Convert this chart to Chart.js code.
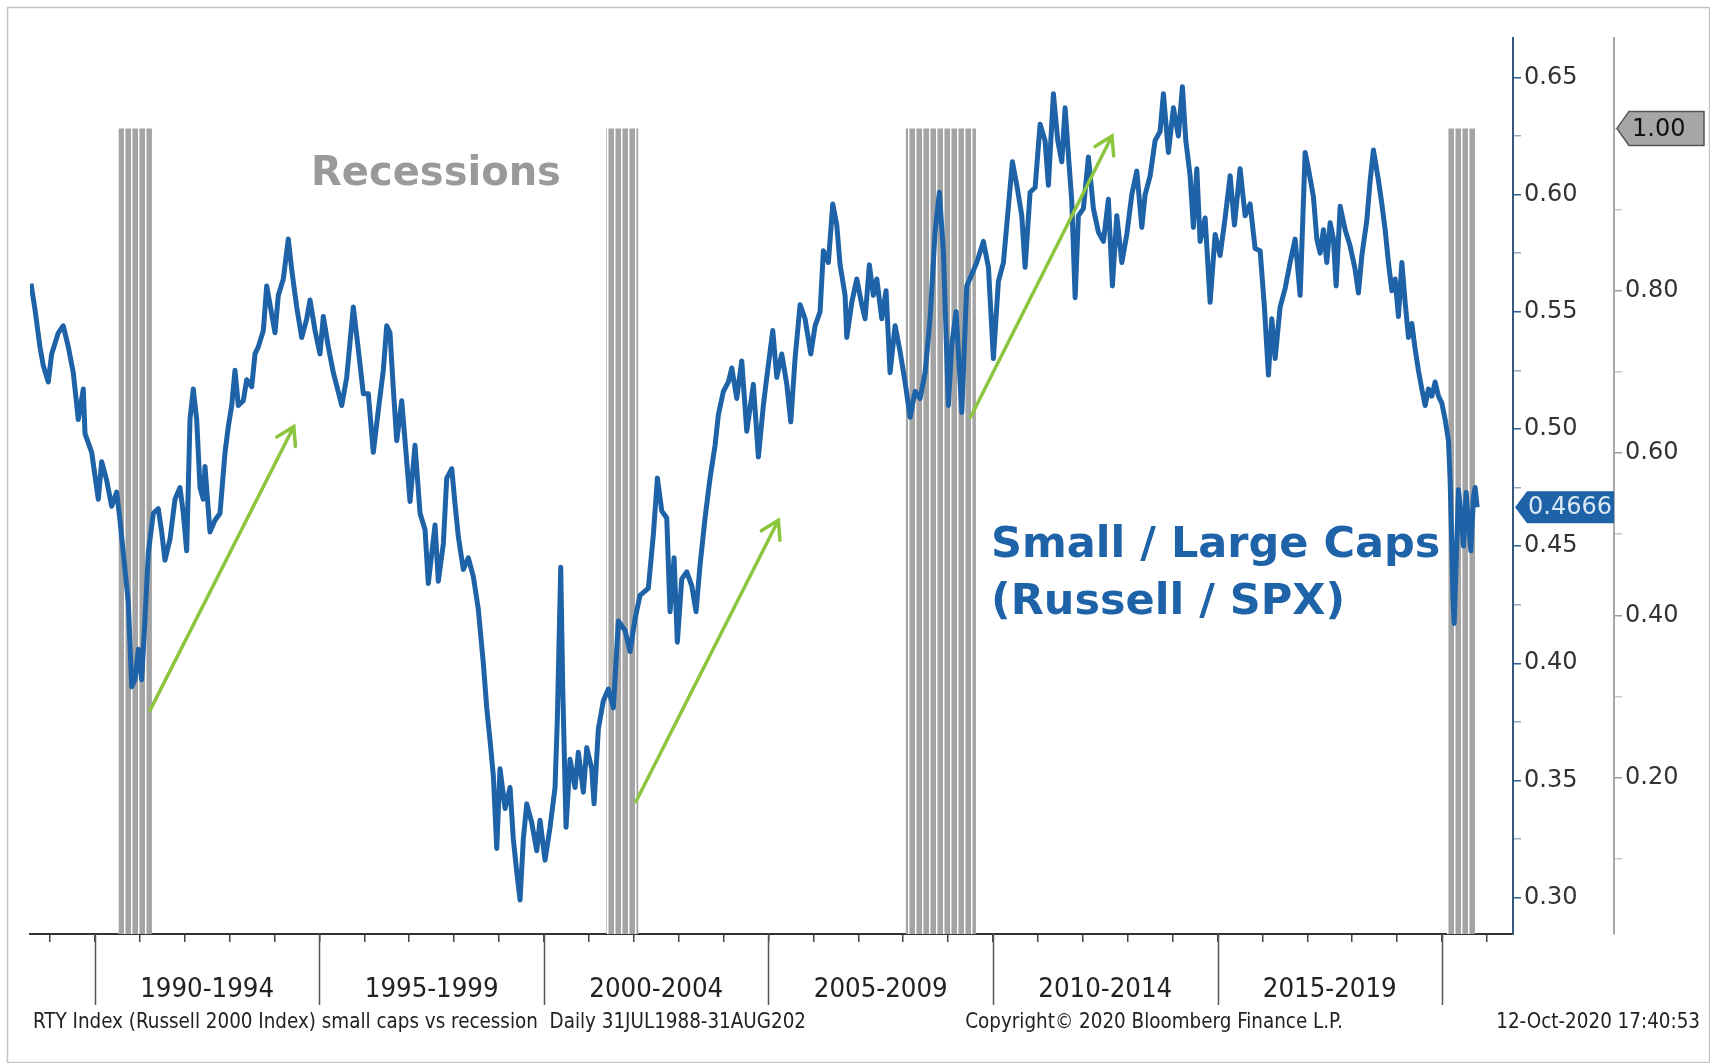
<!DOCTYPE html>
<html>
<head>
<meta charset="utf-8">
<script src="https://cdn.jsdelivr.net/npm/chart.js@4.4.1/dist/chart.umd.min.js"></script>
<style>
  html, body { margin: 0; padding: 0; background: #fff; }
  #wrap { width: 1710px; height: 1063px; position: relative; }
</style>
</head>
<body>
<div id="wrap"><canvas id="chart"></canvas></div>
<script>
// Russell 2000 / SPX ratio (decimal years)
const dates = [
  1988.577, 1988.666, 1988.777, 1988.851, 1988.962, 1989.038, 1989.185, 1989.296, 1989.408, 1989.519,
  1989.630, 1989.742, 1989.780, 1989.929, 1990.002, 1990.076, 1990.151, 1990.263, 1990.374, 1990.485,
  1990.559, 1990.670, 1990.744, 1990.820, 1990.893, 1990.967, 1991.042, 1991.116, 1991.189, 1991.301,
  1991.412, 1991.488, 1991.561, 1991.673, 1991.784, 1991.895, 1991.969, 1992.044, 1992.118, 1992.191,
  1992.267, 1992.341, 1992.414, 1992.452, 1992.563, 1992.675, 1992.786, 1992.898, 1992.971, 1993.047,
  1993.120, 1993.194, 1993.305, 1993.381, 1993.492, 1993.566, 1993.639, 1993.751, 1993.826, 1993.938,
  1994.011, 1994.085, 1994.196, 1994.307, 1994.383, 1994.494, 1994.606, 1994.717, 1994.791, 1994.902,
  1995.013, 1995.087, 1995.198, 1995.310, 1995.497, 1995.608, 1995.755, 1995.866, 1995.978, 1996.089,
  1996.200, 1996.312, 1996.423, 1996.499, 1996.572, 1996.646, 1996.722, 1996.833, 1996.906, 1997.018,
  1997.129, 1997.241, 1997.352, 1997.425, 1997.575, 1997.648, 1997.760, 1997.835, 1997.947, 1998.020,
  1998.094, 1998.205, 1998.316, 1998.428, 1998.539, 1998.650, 1998.726, 1998.800, 1998.873, 1998.949,
  1999.022, 1999.134, 1999.245, 1999.318, 1999.394, 1999.468, 1999.541, 1999.617, 1999.728, 1999.840,
  1999.913, 2000.024, 2000.136, 2000.247, 2000.298, 2000.374, 2000.419, 2000.492, 2000.581, 2000.693,
  2000.766, 2000.878, 2000.953, 2001.065, 2001.116, 2001.212, 2001.323, 2001.434, 2001.546, 2001.657,
  2001.806, 2001.918, 2002.029, 2002.140, 2002.325, 2002.437, 2002.526, 2002.624, 2002.735, 2002.808,
  2002.898, 2002.971, 2003.069, 2003.180, 2003.292, 2003.387, 2003.477, 2003.588, 2003.699, 2003.811,
  2003.884, 2003.996, 2004.107, 2004.183, 2004.294, 2004.405, 2004.517, 2004.664, 2004.775, 2004.886,
  2004.962, 2005.096, 2005.185, 2005.296, 2005.408, 2005.497, 2005.592, 2005.704, 2005.815, 2005.942,
  2006.038, 2006.149, 2006.223, 2006.334, 2006.432, 2006.521, 2006.595, 2006.706, 2006.744, 2006.855,
  2006.967, 2007.078, 2007.151, 2007.247, 2007.336, 2007.412, 2007.523, 2007.619, 2007.708, 2007.820,
  2007.931, 2008.042, 2008.154, 2008.265, 2008.376, 2008.488, 2008.599, 2008.710, 2008.806, 2008.895,
  2009.007, 2009.082, 2009.178, 2009.305, 2009.416, 2009.528, 2009.639, 2009.786, 2009.898, 2010.009,
  2010.120, 2010.232, 2010.307, 2010.432, 2010.530, 2010.641, 2010.715, 2010.826, 2010.938, 2011.049,
  2011.160, 2011.234, 2011.345, 2011.443, 2011.532, 2011.606, 2011.679, 2011.755, 2011.829, 2011.902,
  2012.013, 2012.125, 2012.236, 2012.347, 2012.459, 2012.570, 2012.659, 2012.757, 2012.869, 2012.980,
  2013.091, 2013.203, 2013.314, 2013.388, 2013.499, 2013.610, 2013.722, 2013.795, 2013.906, 2014.018,
  2014.129, 2014.218, 2014.294, 2014.390, 2014.463, 2014.539, 2014.612, 2014.724, 2014.835, 2014.947,
  2015.058, 2015.169, 2015.281, 2015.376, 2015.503, 2015.615, 2015.726, 2015.837, 2015.949, 2016.044,
  2016.134, 2016.209, 2016.283, 2016.394, 2016.506, 2016.617, 2016.728, 2016.840, 2016.951, 2017.024,
  2017.136, 2017.212, 2017.285, 2017.359, 2017.434, 2017.508, 2017.581, 2017.641, 2017.731, 2017.842,
  2017.953, 2018.065, 2018.138, 2018.214, 2018.325, 2018.399, 2018.472, 2018.584, 2018.659, 2018.733,
  2018.806, 2018.882, 2018.955, 2019.029, 2019.105, 2019.178, 2019.252, 2019.327, 2019.401, 2019.474,
  2019.550, 2019.624, 2019.697, 2019.773, 2019.846, 2019.920, 2019.996, 2020.069, 2020.143, 2020.180,
  2020.218, 2020.241, 2020.270, 2020.314, 2020.365, 2020.419, 2020.477, 2020.537, 2020.588, 2020.642,
  2020.699, 2020.737, 2020.782
];
const ratio = [
  0.562, 0.551, 0.535, 0.527, 0.520, 0.532, 0.541, 0.544, 0.535, 0.524,
  0.504, 0.517, 0.498, 0.490, 0.480, 0.470, 0.486, 0.478, 0.467, 0.473,
  0.461, 0.440, 0.426, 0.390, 0.393, 0.406, 0.393, 0.419, 0.447, 0.464,
  0.466, 0.456, 0.444, 0.453, 0.470, 0.475, 0.464, 0.448, 0.504, 0.517,
  0.504, 0.475, 0.470, 0.484, 0.456, 0.461, 0.464, 0.490, 0.501, 0.510,
  0.525, 0.510, 0.512, 0.521, 0.518, 0.532, 0.535, 0.542, 0.561, 0.549,
  0.541, 0.557, 0.564, 0.581, 0.568, 0.552, 0.539, 0.547, 0.555, 0.542,
  0.532, 0.548, 0.535, 0.524, 0.510, 0.522, 0.552, 0.534, 0.515, 0.515,
  0.490, 0.508, 0.525, 0.544, 0.541, 0.517, 0.495, 0.512, 0.495, 0.469,
  0.493, 0.464, 0.457, 0.434, 0.459, 0.435, 0.451, 0.479, 0.483, 0.468,
  0.454, 0.440, 0.445, 0.437, 0.423, 0.400, 0.381, 0.367, 0.352, 0.321,
  0.355, 0.338, 0.347, 0.325, 0.311, 0.299, 0.325, 0.340, 0.332, 0.320,
  0.333, 0.316, 0.330, 0.347, 0.376, 0.441, 0.389, 0.330, 0.359, 0.347,
  0.362, 0.345, 0.364, 0.355, 0.340, 0.372, 0.384, 0.389, 0.381, 0.418,
  0.414, 0.405, 0.419, 0.429, 0.432, 0.455, 0.479, 0.465, 0.462, 0.422,
  0.445, 0.409, 0.436, 0.439, 0.433, 0.422, 0.442, 0.462, 0.479, 0.493,
  0.506, 0.516, 0.520, 0.526, 0.513, 0.529, 0.499, 0.519, 0.488, 0.510,
  0.522, 0.542, 0.522, 0.532, 0.519, 0.503, 0.530, 0.553, 0.547, 0.532,
  0.544, 0.550, 0.576, 0.571, 0.596, 0.587, 0.570, 0.557, 0.539, 0.554,
  0.564, 0.553, 0.547, 0.570, 0.557, 0.564, 0.547, 0.559, 0.524, 0.544,
  0.533, 0.520, 0.505, 0.516, 0.513, 0.524, 0.547, 0.584, 0.601, 0.576,
  0.510, 0.536, 0.550, 0.507, 0.561, 0.566, 0.571, 0.580, 0.569, 0.530,
  0.563, 0.571, 0.587, 0.614, 0.604, 0.591, 0.569, 0.601, 0.603, 0.630,
  0.623, 0.604, 0.643, 0.623, 0.614, 0.637, 0.617, 0.597, 0.556, 0.591,
  0.594, 0.616, 0.594, 0.584, 0.580, 0.598, 0.561, 0.591, 0.571, 0.583,
  0.600, 0.610, 0.586, 0.600, 0.608, 0.623, 0.627, 0.643, 0.618, 0.637,
  0.625, 0.646, 0.623, 0.608, 0.586, 0.611, 0.580, 0.590, 0.554, 0.583,
  0.574, 0.590, 0.608, 0.587, 0.611, 0.591, 0.596, 0.577, 0.576, 0.552,
  0.523, 0.547, 0.530, 0.552, 0.560, 0.571, 0.581, 0.557, 0.618, 0.611,
  0.599, 0.581, 0.575, 0.585, 0.571, 0.588, 0.581, 0.561, 0.595, 0.585,
  0.578, 0.568, 0.558, 0.574, 0.589, 0.606, 0.619, 0.606, 0.596, 0.585,
  0.571, 0.559, 0.564, 0.548, 0.571, 0.554, 0.539, 0.545, 0.534, 0.525,
  0.517, 0.510, 0.517, 0.514, 0.520, 0.514, 0.511, 0.504, 0.495, 0.478,
  0.450, 0.429, 0.417, 0.443, 0.474, 0.464, 0.450, 0.473, 0.460, 0.448,
  0.471, 0.475, 0.4666
];

// recession flag (right axis = 1) between these dates
const recessionStart = [1990.52, 2001.39, 2008.06, 2020.11];
const recessionEnd = [1991.27, 2002.10, 2009.62, 2020.74];
const recessionFlag = 1;

const ratioTicks = [0.30, 0.35, 0.40, 0.45, 0.50, 0.55, 0.60, 0.65];
const ratioMinor = [0.325, 0.375, 0.425, 0.475, 0.525, 0.575, 0.625];
const flagTicks = [0.20, 0.40, 0.60, 0.80];
const flagMinor = [0.10, 0.30, 0.50, 0.70, 0.90, 1.00];
const yearTicks = [
  1989, 1990, 1991, 1992, 1993, 1994, 1995, 1996, 1997, 1998, 1999, 2000, 2001, 2002, 2003, 2004,
  2005, 2006, 2007, 2008, 2009, 2010, 2011, 2012, 2013, 2014, 2015, 2016, 2017, 2018, 2019, 2020, 2021
];
const periodStarts = [1990, 1995, 2000, 2005, 2010, 2015, 2020];
const periodLabels = ["1990-1994", "1995-1999", "2000-2004", "2005-2009", "2010-2014", "2015-2019"];

// green arrows, [year, ratio]
const arrowFrom = [[1991.23, 0.380], [2002.05, 0.341], [2009.50, 0.505]];
const arrowTo = [[1994.43, 0.501], [2005.22, 0.461], [2012.65, 0.625]];

const blue = "#1e62a8";
const green = "#8cc63f";
const narrow = "'Liberation Sans Narrow', 'DejaVu Sans Condensed', 'DejaVu Sans'";

function stripes() {
  const c = document.createElement("canvas");
  c.width = 7;
  c.height = 4;
  const g = c.getContext("2d");
  g.fillStyle = "#a4a4a4";
  g.fillRect(0, 0, 7, 4);
  g.fillStyle = "#ffffff";
  g.fillRect(5, 0, 1, 4);
  g.fillStyle = "#cdcdcd";
  g.fillRect(6, 0, 1, 4);
  return g.createPattern(c, "repeat");
}

// font size that makes `text` about `width` px wide
function fitFont(ctx, text, width, family) {
  ctx.font = "100px " + family;
  return (100 * width) / ctx.measureText(text).width;
}

const ratioPoints = dates.map((d, i) => ({ x: d, y: ratio[i] }));
const recessionPoints = [];
recessionStart.forEach((s, i) => {
  const e = recessionEnd[i];
  recessionPoints.push({ x: s, y: 0 }, { x: s, y: recessionFlag }, { x: e, y: recessionFlag }, { x: e, y: 0 });
});

function arrow(ctx, x0, y0, x1, y1) {
  const a = Math.atan2(y1 - y0, x1 - x0);
  const len = 20, spread = 0.55;
  ctx.beginPath();
  ctx.moveTo(x0, y0);
  ctx.lineTo(x1, y1);
  ctx.moveTo(x1 - len * Math.cos(a - spread), y1 - len * Math.sin(a - spread));
  ctx.lineTo(x1, y1);
  ctx.lineTo(x1 - len * Math.cos(a + spread), y1 - len * Math.sin(a + spread));
  ctx.stroke();
}

function tagBox(ctx, xTip, y, xRight, h, fill, stroke) {
  ctx.beginPath();
  ctx.moveTo(xTip, y);
  ctx.lineTo(xTip + 12, y - h / 2);
  ctx.lineTo(xRight, y - h / 2);
  ctx.lineTo(xRight, y + h / 2);
  ctx.lineTo(xTip + 12, y + h / 2);
  ctx.closePath();
  ctx.fillStyle = fill;
  ctx.fill();
  if (stroke) {
    ctx.strokeStyle = stroke;
    ctx.lineWidth = 1.5;
    ctx.stroke();
  }
}

const frame = {
  id: "frame",
  beforeDraw(chart) {
    const ctx = chart.ctx;
    ctx.save();
    ctx.fillStyle = "#fff";
    ctx.fillRect(0, 0, chart.width, chart.height);
    ctx.strokeStyle = "#c4c4c4";
    ctx.lineWidth = 1.5;
    ctx.strokeRect(7.5, 7.5, chart.width - 8, chart.height - 8);
    ctx.restore();
  },
};

const notes = {
  id: "notes",
  afterDatasetsDraw(chart) {
    const ctx = chart.ctx;
    const sx = chart.scales.x, sy = chart.scales.y;
    ctx.save();
    ctx.strokeStyle = green;
    ctx.lineWidth = 3.5;
    ctx.lineCap = "round";
    arrowFrom.forEach((p, i) => {
      const q = arrowTo[i];
      arrow(ctx, sx.getPixelForValue(p[0]), sy.getPixelForValue(p[1]),
        sx.getPixelForValue(q[0]), sy.getPixelForValue(q[1]));
    });

    ctx.textBaseline = "middle";
    ctx.textAlign = "center";
    ctx.fillStyle = "#9a9a9a";
    ctx.font = "bold 40px 'DejaVu Sans'";
    ctx.fillText("Recessions", 436, 175);

    ctx.textAlign = "left";
    ctx.fillStyle = blue;
    ctx.font = "bold 43px 'DejaVu Sans'";
    ctx.fillText("Small / Large Caps", 991, 546);
    ctx.fillText("(Russell / SPX)", 991, 603);
    ctx.restore();
  },
  afterDraw(chart) {
    const ctx = chart.ctx;
    const sx = chart.scales.x, sy = chart.scales.y, sy2 = chart.scales.y2;
    const area = chart.chartArea;
    ctx.save();

    // 5-year separators and period labels
    ctx.strokeStyle = "#555";
    ctx.lineWidth = 1.5;
    periodStarts.forEach((yr) => {
      const px = Math.round(sx.getPixelForValue(yr)) + 0.5;
      ctx.beginPath();
      ctx.moveTo(px, area.bottom);
      ctx.lineTo(px, 1005);
      ctx.stroke();
    });
    ctx.fillStyle = "#222";
    ctx.textAlign = "center";
    ctx.textBaseline = "middle";
    const yearSize = fitFont(ctx, periodLabels[0], 134, narrow);
    ctx.font = yearSize.toFixed(1) + "px " + narrow;
    periodLabels.forEach((lab, i) => {
      const mid = (sx.getPixelForValue(periodStarts[i]) + sx.getPixelForValue(periodStarts[i + 1])) / 2;
      ctx.fillText(lab, mid, 990);
    });

    // footer
    const footLeft = "RTY Index (Russell 2000 Index) small caps vs recession  Daily 31JUL1988-31AUG202";
    const footSize = fitFont(ctx, footLeft, 772, narrow);
    ctx.font = footSize.toFixed(1) + "px " + narrow;
    ctx.textAlign = "left";
    ctx.fillText(footLeft, 33, 1023);
    ctx.textAlign = "center";
    ctx.fillText("Copyright\u00a9 2020 Bloomberg Finance L.P.", 1154, 1023);
    ctx.textAlign = "right";
    ctx.fillText("12-Oct-2020 17:40:53", 1700, 1023);

    // last value tags
    const last = ratio[ratio.length - 1];
    const yLast = sy.getPixelForValue(last);
    tagBox(ctx, area.right + 2, yLast, sy2.left, 32, blue, null);
    ctx.fillStyle = "#dbe8f6";
    ctx.textAlign = "left";
    ctx.font = "24px 'DejaVu Sans'";
    ctx.fillText(last.toFixed(4), area.right + 15, yLast + 1);

    const yFlag = sy2.getPixelForValue(recessionFlag);
    tagBox(ctx, sy2.left + 3, yFlag, 1704, 34, "#a6a6a6", "#555");
    ctx.fillStyle = "#111";
    ctx.fillText(recessionFlag.toFixed(2), sy2.left + 18, yFlag + 1);
    ctx.restore();
  },
};

new Chart(document.getElementById("chart"), {
  type: "line",
  data: {
    datasets: [
      {
        label: "Small / Large Caps",
        data: ratioPoints,
        yAxisID: "y",
        borderColor: blue,
        borderWidth: 5,
        pointRadius: 0,
        tension: 0,
        borderJoinStyle: "round",
        order: 1,
      },
      {
        label: "Recessions",
        data: recessionPoints,
        yAxisID: "y2",
        borderWidth: 0,
        pointRadius: 0,
        fill: "origin",
        backgroundColor: stripes(),
        order: 2,
      },
    ],
  },
  options: {
    responsive: true,
    maintainAspectRatio: false,
    animation: false,
    layout: { padding: { left: 30, top: 38, right: 0, bottom: 0 } },
    plugins: { legend: { display: false }, tooltip: { enabled: false } },
    scales: {
      x: {
        type: "linear",
        min: 1988.555,
        max: 2021.58,
        afterBuildTicks: (s) => { s.ticks = yearTicks.map((v) => ({ value: v })); },
        afterFit: (s) => { s.height = 129; },
        grid: { drawOnChartArea: false, tickLength: 8, color: "#444", lineWidth: 1.5 },
        border: { display: true, color: "#333", width: 2 },
        ticks: { display: false },
      },
      y: {
        position: "right",
        weight: 0,
        min: 0.28447,
        max: 0.66681,
        afterBuildTicks: (s) => {
          s.ticks = ratioTicks.concat(ratioMinor).sort((a, b) => a - b).map((v) => ({ value: v }));
        },
        afterFit: (s) => { s.width = 101; },
        grid: {
          drawOnChartArea: false,
          tickLength: 8,
          lineWidth: 1.5,
          color: (c) => (c.tick && ratioTicks.includes(c.tick.value) ? "#2b5f93" : "#9aaec3"),
        },
        border: { color: "#34597d", width: 2 },
        ticks: {
          callback: (v) => (ratioTicks.includes(v) ? v.toFixed(2) : ""),
          font: { family: "'DejaVu Sans'", size: 24 },
          color: "#333",
          padding: 3,
        },
      },
      y2: {
        position: "right",
        weight: 1,
        min: 0.0073,
        max: 1.1114,
        afterBuildTicks: (s) => {
          s.ticks = flagTicks.concat(flagMinor).sort((a, b) => a - b).map((v) => ({ value: v }));
        },
        afterFit: (s) => { s.width = 96; },
        grid: {
          drawOnChartArea: false,
          tickLength: 8,
          lineWidth: 1.5,
          color: (c) => (c.tick && flagTicks.includes(c.tick.value) ? "#9a9a9a" : "#c8c8c8"),
        },
        border: { color: "#a8a8a8", width: 2 },
        ticks: {
          callback: (v) => (flagTicks.includes(v) ? v.toFixed(2) : ""),
          font: { family: "'DejaVu Sans'", size: 24 },
          color: "#333",
          padding: 3,
        },
      },
    },
  },
  plugins: [frame, notes],
});
</script>
</body>
</html>
